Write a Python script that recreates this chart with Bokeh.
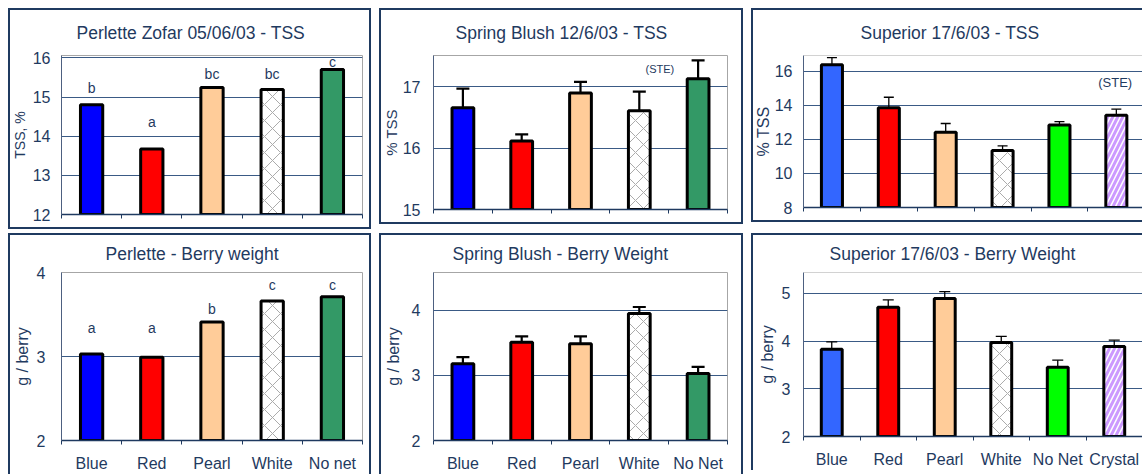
from bokeh.plotting import figure
from bokeh.models import ColumnDataSource, Range1d, FixedTicker, Whisker, TeeHead, Label, Span
from bokeh.layouts import row, column
from bokeh.embed import file_html
from bokeh.resources import INLINE
from bokeh.core.properties import value

# ---------------- data ----------------
cats_perlette = ["Blue", "Red", "Pearl", "White", "No net"]
cats_spring = ["Blue", "Red", "Pearl", "White", "No Net"]
cats_superior = ["Blue", "Red", "Pearl", "White", "No Net", "Crystal"]

perlette_tss = [14.80, 13.67, 15.24, 15.19, 15.70]
perlette_tss_letters = ["b", "a", "bc", "bc", "c"]
perlette_tss_letter_y = [15.24, 14.35, 15.60, 15.60, 15.90]

spring_tss = [16.66, 16.115, 16.90, 16.61, 17.13]
spring_tss_err = [0.31, 0.11, 0.18, 0.31, 0.30]

superior_tss = [16.38, 13.86, 12.42, 11.35, 12.84, 13.42]
superior_tss_err = [0.41, 0.61, 0.51, 0.27, 0.20, 0.35]

perlette_bw = [3.03, 2.99, 3.41, 3.66, 3.71]
perlette_bw_letters = ["a", "a", "b", "c", "c"]
perlette_bw_letter_y = [3.34, 3.34, 3.56, 3.85, 3.85]

spring_bw = [3.18, 3.51, 3.485, 3.95, 3.03]
spring_bw_err = [0.10, 0.09, 0.115, 0.10, 0.10]

superior_bw = [3.83, 4.71, 4.895, 3.97, 3.45, 3.89]
superior_bw_err = [0.155, 0.155, 0.145, 0.13, 0.15, 0.13]

# ---------------- styles ----------------
NAVY = "#1F3A60"
GRID = "#3A5A85"
FRAME = "#A6A6A6"
FONT = "Liberation Sans"

COL = {"Blue": "#0000FF", "Red": "#FF0000", "Pearl": "#FFCC99", "White": "#FFFFFF",
       "No net": "#339966", "No Net": "#339966"}
COL_SUP = {"Blue": "#3366FF", "Red": "#FF0000", "Pearl": "#FFCC99", "White": "#FFFFFF",
           "No Net": "#00FF00", "Crystal": "#CC99FF"}
HATCH = {"White": ("diagonal_cross", "#ABABAB", 1, 16),
         "Crystal": ("right_diagonal_line", "#FFFFFF", 1.5, 10)}


def shadow(sides):
    parts = {"l": "inset 2px 0 0 0 %s", "r": "inset -2px 0 0 0 %s",
             "t": "inset 0 2px 0 0 %s", "b": "inset 0 -2px 0 0 %s"}
    return ", ".join(parts[s] % NAVY for s in sides)


def panel(title, cats, vals, colors, y0, y1, yticks, ylabel, w, h, mb, title_off,
          x_end=None, err=None, letters=None, letter_y=None, show_labels=False,
          ylab_size="16px", ylab_standoff=2, tick_standoff=12, xlab_standoff=10,
          whisk_w=2, tee=13, ste=None, sides="lrtb", right_open=False):
    n = len(cats)
    xe = x_end if x_end else n
    xs = [i + 0.5 for i in range(n)]
    p = figure(width=w, height=h, output_backend="svg", toolbar_location=None,
               x_range=Range1d(0, xe), y_range=Range1d(y0, y1), title=title,
               min_border_left=mb[0], min_border_right=mb[1], min_border_top=mb[2],
               min_border_bottom=mb[3],
               background_fill_color=None, border_fill_color=None,
               styles={"box-shadow": shadow(sides)})
    p.title.align = "left"
    p.title.offset = title_off[0]
    p.title.standoff = title_off[1]
    p.title.text_font = FONT
    p.title.text_font_size = "17.5px"
    p.title.text_font_style = "normal"
    p.title.text_color = NAVY

    fills, hp, hc, hw, hs = [], [], [], [], []
    for c in cats:
        fills.append(colors[c])
        pat = HATCH.get(c, ("blank", "#FFFFFF", 1, 10))
        hp.append(pat[0]); hc.append(pat[1]); hw.append(pat[2]); hs.append(pat[3])
    src = ColumnDataSource(dict(x=xs, top=vals, fill=fills, hp=hp, hc=hc, hw=hw, hs=hs))

    p.ygrid.ticker = FixedTicker(ticks=yticks)
    p.ygrid.grid_line_color = GRID
    p.ygrid.grid_line_width = 1
    p.xgrid.grid_line_color = None

    if right_open:
        p.outline_line_color = None
        p.add_layout(Span(location=y1, dimension="width", line_color=FRAME, line_width=1))
    else:
        p.outline_line_color = FRAME
        p.outline_line_width = 1

    p.vbar(x="x", top="top", bottom=y0, width=0.37, source=src, fill_color="fill",
           line_color="black", line_width=3, hatch_pattern="hp", hatch_color="hc",
           hatch_weight="hw", hatch_scale="hs")

    if err is not None:
        esrc = ColumnDataSource(dict(x=xs, upper=[v + e for v, e in zip(vals, err)],
                                     lower=[v - e for v, e in zip(vals, err)]))
        wk = Whisker(base="x", upper="upper", lower="lower", source=esrc,
                     line_color="black", line_width=whisk_w,
                     upper_head=TeeHead(size=tee, line_width=whisk_w, line_color="black"),
                     lower_head=TeeHead(size=tee, line_width=whisk_w, line_color="black"))
        p.add_layout(wk)

    if letters is not None:
        lsrc = ColumnDataSource(dict(x=xs, y=letter_y, t=letters))
        p.text(x="x", y="y", text="t", source=lsrc, text_align="center",
               text_baseline="middle", text_font=value(FONT), text_font_size="14px",
               text_color=NAVY)

    if ste is not None:
        p.add_layout(Label(x=ste[0], y=ste[1], text="(STE)", text_align="center",
                           text_baseline="middle", text_font=FONT,
                           text_font_size=ste[2], text_color=NAVY))

    # x axis
    xa = p.xaxis[0]
    xa.ticker = FixedTicker(ticks=xs if show_labels else [], minor_ticks=list(range(n + 1)))
    xa.major_label_overrides = {x: c for x, c in zip(xs, cats)}
    xa.major_tick_out = 0
    xa.major_tick_in = 0
    xa.minor_tick_out = 4
    xa.minor_tick_in = 0
    xa.minor_tick_line_color = NAVY
    xa.axis_line_color = NAVY
    xa.axis_line_width = 1.5
    xa.major_label_text_font = FONT
    xa.major_label_text_font_size = "16px"
    xa.major_label_text_color = NAVY
    xa.major_label_standoff = xlab_standoff

    # y axis
    ya = p.yaxis[0]
    ya.ticker = FixedTicker(ticks=yticks)
    ya.major_tick_out = 0
    ya.major_tick_in = 0
    ya.minor_tick_line_color = None
    ya.axis_line_color = "#4D6080"
    ya.major_label_text_font = FONT
    ya.major_label_text_font_size = "16px"
    ya.major_label_text_color = NAVY
    ya.major_label_standoff = tick_standoff
    ya.axis_label = ylabel
    ya.axis_label_text_font = FONT
    ya.axis_label_text_font_size = ylab_size
    ya.axis_label_text_font_style = "normal"
    ya.axis_label_text_color = NAVY
    ya.axis_label_standoff = ylab_standoff
    return p


p1 = panel("Perlette Zofar 05/06/03 - TSS", cats_perlette, perlette_tss, COL, 12, 16.06,
           [12, 13, 14, 15, 16], "TSS, %", 363, 221, (53, 9, 47, 15), (15, 25),
           letters=perlette_tss_letters, letter_y=perlette_tss_letter_y,
           ylab_size="14px", ylab_standoff=2, tick_standoff=11)
p2 = panel("Spring Blush 12/6/03 - TSS", cats_spring, spring_tss, COL, 15, 17.51,
           [15, 16, 17], "% TSS", 364, 216, (54, 16, 47, 15), (22, 25),
           err=spring_tss_err, ylab_size="15px", ylab_standoff=0, tick_standoff=13,
           whisk_w=2.2, tee=13, ste=(3.85, 17.29, "11px"))
p3 = panel("Superior 17/6/03 - TSS", cats_superior, superior_tss, COL_SUP, 8, 16.92,
           [8, 10, 12, 14, 16], "% TSS", 391, 214, (52, 0, 47, 15), (57, 25),
           x_end=5.96, err=superior_tss_err, ylab_standoff=0, tick_standoff=11,
           whisk_w=1.3, tee=10, ste=(5.48, 15.34, "13px"), sides="ltb", right_open=True)
p4 = panel("Perlette - Berry weight", cats_perlette, perlette_bw, COL, 2, 4.0,
           [2, 3, 4], "g / berry", 363, 241, (53, 9, 39, 33), (44, 17),
           letters=perlette_bw_letters, letter_y=perlette_bw_letter_y, show_labels=True,
           ylab_standoff=3, tick_standoff=16, sides="lrt")
p5 = panel("Spring Blush - Berry Weight", cats_spring, spring_bw, COL, 2, 4.58,
           [2, 3, 4], "g / berry", 364, 241, (54, 16, 39, 33), (19, 17),
           err=spring_bw_err, show_labels=True, ylab_standoff=7, tick_standoff=13,
           whisk_w=2.2, tee=13, sides="lrt")
p6 = panel("Superior 17/6/03 - Berry Weight", cats_superior, superior_bw, COL_SUP, 2, 5.44,
           [2, 3, 4, 5], "g / berry", 391, 237, (52, 0, 39, 33), (26, 17),
           x_end=6.0, err=superior_bw_err, show_labels=True, ylab_standoff=3,
           tick_standoff=13, whisk_w=1.3, tee=11, sides="lt", right_open=True)

layout = column(row(p1, p2, p3, spacing=8), row(p4, p5, p6, spacing=8), spacing=4,
                margin=(8, 0, 0, 8))
open("out.html", "w").write(file_html(layout, INLINE))
